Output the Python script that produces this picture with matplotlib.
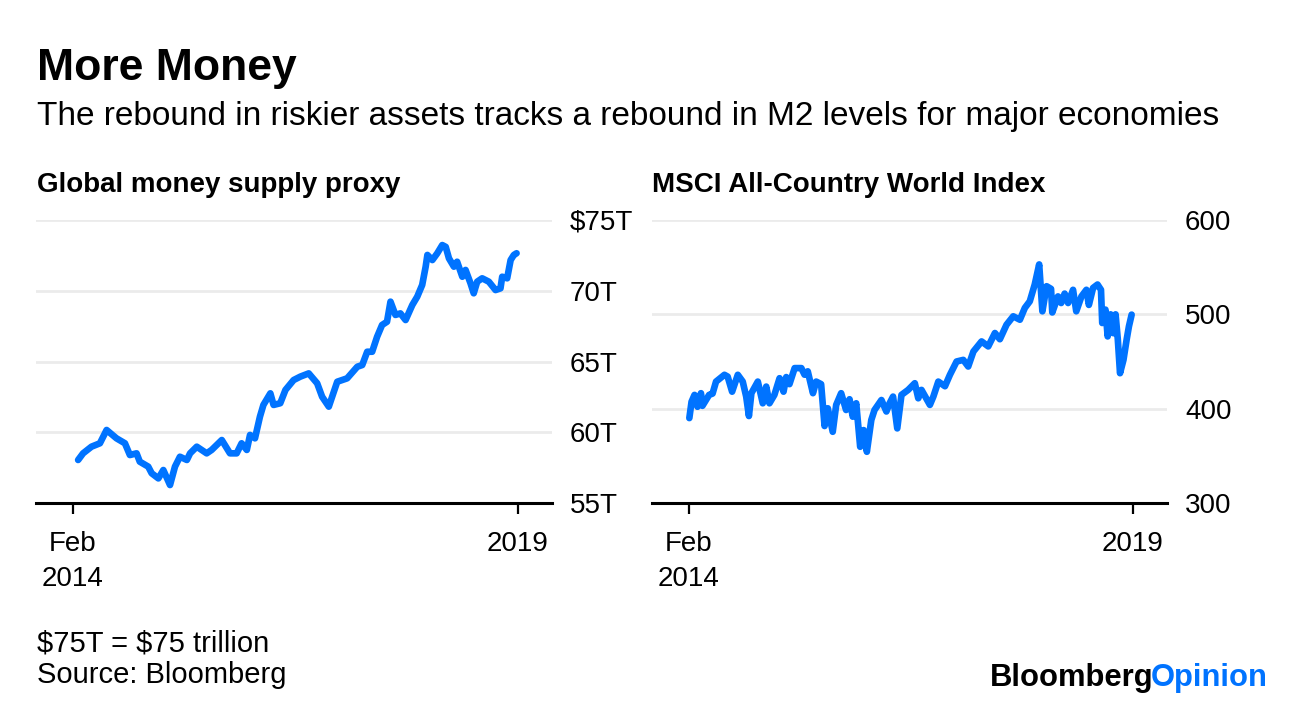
import pandas as pd
import matplotlib
matplotlib.use("Agg")
import matplotlib.pyplot as plt

plt.rcParams["font.family"] = ["Liberation Sans", "DejaVu Sans"]

BLUE = "#0073ff"

# Global money supply proxy (trillions of dollars)
m2_dates = ["2014-02-22", "2014-03-14", "2014-04-17", "2014-05-21", "2014-06-17", "2014-07-27",
            "2014-08-30", "2014-09-19", "2014-10-16", "2014-10-29", "2014-12-02", "2014-12-16",
            "2015-01-12", "2015-02-01", "2015-02-28", "2015-03-20", "2015-04-09", "2015-05-07",
            "2015-05-20", "2015-06-16", "2015-07-26", "2015-08-15", "2015-09-25", "2015-10-28",
            "2015-11-24", "2015-12-14", "2016-01-04", "2016-01-17", "2016-02-06", "2016-02-26",
            "2016-03-11", "2016-04-08", "2016-04-21", "2016-05-18", "2016-06-08", "2016-07-11",
            "2016-08-07", "2016-09-10", "2016-10-14", "2016-11-03", "2016-11-30", "2017-01-03",
            "2017-02-12", "2017-03-25", "2017-04-14", "2017-05-04", "2017-05-24", "2017-06-13",
            "2017-07-03", "2017-07-23", "2017-08-06", "2017-08-26", "2017-09-15", "2017-10-06",
            "2017-11-02", "2017-11-22", "2017-12-12", "2017-12-26", "2018-01-02", "2018-01-22",
            "2018-02-11", "2018-03-03", "2018-03-17", "2018-03-30", "2018-04-19", "2018-05-02",
            "2018-05-23", "2018-06-05", "2018-06-25", "2018-07-08", "2018-07-22", "2018-08-11",
            "2018-09-07", "2018-10-04", "2018-10-24", "2018-10-31", "2018-11-20", "2018-12-04",
            "2018-12-17", "2018-12-28"]
m2_values = [58.04, 58.51, 58.98, 59.22, 60.16, 59.57, 59.22, 58.39, 58.51, 57.92, 57.57, 57.1,
             56.74, 57.33, 56.27, 57.57, 58.27, 58.04, 58.51, 58.98, 58.51, 58.75, 59.45, 58.51,
             58.51, 59.22, 58.75, 59.81, 59.57, 61.1, 61.93, 62.75, 61.93, 62.05, 62.99, 63.69,
             63.93, 64.16, 63.46, 62.51, 61.81, 63.57, 63.81, 64.63, 64.75, 65.69, 65.69, 66.75,
             67.58, 67.81, 69.23, 68.29, 68.4, 67.93, 68.99, 69.58, 70.41, 71.7, 72.53, 72.17,
             72.65, 73.23, 73.1, 72.29, 71.7, 72.05, 70.99, 71.47, 70.53, 69.82, 70.64, 70.88,
             70.64, 70.05, 70.17, 70.99, 70.88, 72.17, 72.53, 72.65]

# MSCI All-Country World Index
acwi_dates = ["2014-02-03", "2014-02-12", "2014-02-24", "2014-03-08", "2014-03-22", "2014-03-28",
              "2014-04-24", "2014-05-08", "2014-05-22", "2014-06-25", "2014-07-08", "2014-07-26",
              "2014-08-18", "2014-09-07", "2014-09-21", "2014-10-02", "2014-10-12", "2014-11-07",
              "2014-11-27", "2014-12-11", "2014-12-24", "2015-01-13", "2015-02-03", "2015-02-19",
              "2015-03-02", "2015-03-15", "2015-04-05", "2015-05-02", "2015-05-15", "2015-05-28",
              "2015-06-18", "2015-07-01", "2015-07-21", "2015-08-04", "2015-08-17", "2015-09-06",
              "2015-09-20", "2015-10-10", "2015-10-30", "2015-11-13", "2015-11-26", "2015-12-10",
              "2015-12-26", "2016-01-09", "2016-01-22", "2016-02-09", "2016-02-22", "2016-03-21",
              "2016-04-10", "2016-04-23", "2016-05-07", "2016-05-24", "2016-06-10", "2016-07-07",
              "2016-08-03", "2016-08-17", "2016-08-30", "2016-10-03", "2016-10-17", "2016-11-06",
              "2016-12-03", "2016-12-23", "2017-01-19", "2017-02-15", "2017-03-07", "2017-03-28",
              "2017-04-30", "2017-05-27", "2017-06-23", "2017-07-13", "2017-08-09", "2017-09-05",
              "2017-10-02", "2017-10-22", "2017-11-11", "2017-12-01", "2017-12-19", "2018-01-01",
              "2018-01-18", "2018-02-05", "2018-02-10", "2018-03-05", "2018-03-18", "2018-04-01",
              "2018-04-15", "2018-05-05", "2018-05-18", "2018-06-08", "2018-06-28", "2018-07-08",
              "2018-07-25", "2018-08-12", "2018-08-26", "2018-08-31", "2018-09-13", "2018-09-22",
              "2018-10-04", "2018-10-15", "2018-10-24", "2018-11-02", "2018-11-11", "2018-11-25",
              "2018-12-08", "2018-12-17", "2018-12-28"]
acwi_values = [390, 407.4, 414.6, 402, 416.4, 403, 414.6, 416, 428.7, 435.9, 434, 418,
               435.9, 428.7, 412.8, 392.2, 416.4, 428.7, 405.7, 423.4, 405.7, 414.6, 432.3, 418,
               433.5, 426, 443, 443, 436, 439.6, 416.4, 428.7, 426, 381.6, 400.4, 375.5,
               404, 416.4, 398.6, 410, 391.5, 405.7, 359.6, 377.3, 354.3, 388, 398.6, 409.2,
               397, 405.7, 412.8, 379.1, 414.6, 419.9, 427, 411, 419.9, 404, 412.8, 428.7,
               423.8, 435.9, 450, 451.7, 444.7, 460.6, 471.3, 466, 480.2, 473.6, 489, 497.9,
               494.3, 506.8, 513.8, 531.6, 552.9, 503.2, 529.8, 527, 502, 519, 512, 522,
               512, 526, 503.2, 519, 526, 510, 528, 531.6, 526, 490.8, 505, 476.6,
               500, 480, 500, 473.6, 437.6, 451.8, 473.6, 487.2, 499.7]

m2_ticks = [55, 60, 65, 70, 75]
m2_labels = ["55T", "60T", "65T", "70T", "$75T"]
acwi_ticks = [300, 400, 500, 600]
acwi_labels = ["300", "400", "500", "600"]
x_ticks = ["2014-02-01", "2019-01-01"]
x_labels = ["Feb\n2014", "2019"]

W, H = 1296, 706
fig = plt.figure(figsize=(W / 100, H / 100), dpi=100)


def px(x, y):
    return x / W, 1 - y / H


def draw_panel(ax, dates, values, ticks, labels):
    ax.plot(pd.to_datetime(dates), values, color=BLUE, lw=4.8,
            solid_capstyle="round", solid_joinstyle="round", zorder=3)
    ax.set_xlim(pd.Timestamp("2013-09-05"), pd.Timestamp("2019-05-20"))
    ax.set_ylim(ticks[0], ticks[-1])
    ax.set_yticks(ticks)
    ax.set_yticklabels(labels)
    ax.yaxis.tick_right()
    ax.tick_params(axis="y", length=0, pad=13, labelsize=20)
    ax.set_xticks(pd.to_datetime(x_ticks))
    ax.set_xticklabels(x_labels, linespacing=1.45)
    ax.tick_params(axis="x", length=8, width=1.6, pad=12.5, labelsize=20, color="black")
    ax.grid(axis="y", color="#ebebeb", lw=2)
    ax.grid(axis="x", visible=False)
    for s in ["top", "left", "right"]:
        ax.spines[s].set_visible(False)
    ax.spines["bottom"].set_linewidth(2.2)
    ax.spines["bottom"].set_zorder(4)
    ax.set_axisbelow(True)


ax1 = fig.add_axes([36 / W, (H - 503) / H, (552 - 36) / W, 283 / H])
draw_panel(ax1, m2_dates, m2_values, m2_ticks, m2_labels)

ax2 = fig.add_axes([652 / W, (H - 503) / H, (1167 - 652) / W, 283 / H])
draw_panel(ax2, acwi_dates, acwi_values, acwi_ticks, acwi_labels)

fig.text(*px(37, 80), "More Money", fontsize=32, fontweight="bold", va="baseline")
fig.text(*px(37, 125), "The rebound in riskier assets tracks a rebound in M2 levels for major economies",
         fontsize=24, va="baseline")
fig.text(*px(37, 192), "Global money supply proxy", fontsize=20, fontweight="bold", va="baseline")
fig.text(*px(652, 192), "MSCI All-Country World Index", fontsize=20, fontweight="bold", va="baseline")
fig.text(*px(37, 652), "\\$75T = \\$75 trillion", fontsize=21, va="baseline")
fig.text(*px(37, 683), "Source: Bloomberg", fontsize=21, va="baseline")

logo = fig.text(*px(990, 686), "Bloomberg", fontsize=22.3, fontweight="bold", va="baseline")
plt.annotate("Opinion", xy=(1, 0), xycoords=logo, xytext=(-3, 0), textcoords="offset pixels",
             fontsize=22.3, fontweight="bold", color=BLUE, va="bottom", ha="left")

fig.savefig("out.png", dpi=100)
